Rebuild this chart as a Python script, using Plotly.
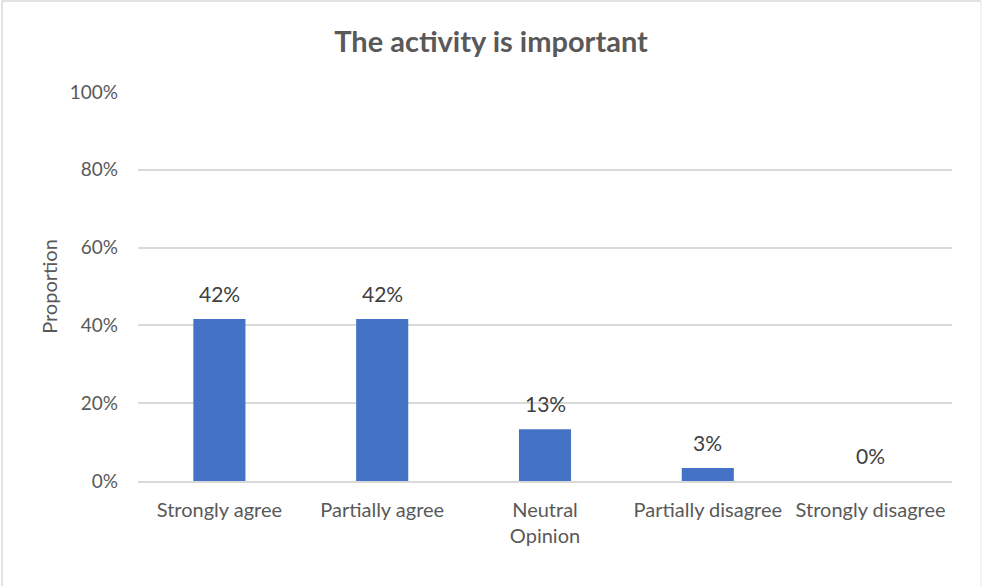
import plotly.graph_objects as go

categories = ["Strongly agree", "Partially agree", "Neutral<br>Opinion", "Partially disagree", "Strongly disagree"]
values = [0.4167, 0.4167, 0.1333, 0.0333, 0.0]
labels = ["42%", "42%", "13%", "3%", "0%"]
y_ticks = [0, 0.2, 0.4, 0.6, 0.8, 1.0]
y_tick_text = ["0%", "20%", "40%", "60%", "80%", "100%"]

FONT = "Lato, Carlito, Calibri, sans-serif"
GRAY = "#595959"

W, H = 982, 586
L, R, T, B = 138, 30, 92, 105
PW, PH = W - L - R, H - T - B

fig = go.Figure()
fig.add_trace(go.Bar(
    x=categories, y=values,
    marker=dict(color="#4472C4", line=dict(width=0)),
    width=0.32,
    hoverinfo="skip",
))

for c, v, t in zip(categories, values, labels):
    fig.add_annotation(x=c, y=v, xref="x", yref="y", text=t, showarrow=False,
                       yanchor="bottom", yshift=11,
                       font=dict(family=FONT, size=21, color="#404040"))

fig.update_layout(
    width=W, height=H,
    margin=dict(l=L, r=R, t=T, b=B),
    paper_bgcolor="white", plot_bgcolor="white",
    showlegend=False,
    title=dict(text="<b>The activity is important</b>", x=0.5, xanchor="center",
               y=1 - 42 / H, yanchor="middle",
               font=dict(family=FONT, size=29, color=GRAY)),
    font=dict(family=FONT, size=19, color=GRAY),
    xaxis=dict(showline=True, linecolor="#d9d9d9", linewidth=1.5, ticks="",
               tickfont=dict(family=FONT, size=20, color=GRAY),
               ticklabelstandoff=10, fixedrange=True),
    yaxis=dict(range=[0, 1.0], tickvals=y_ticks, ticktext=y_tick_text,
               showgrid=True, gridcolor="#d9d9d9", gridwidth=1.5,
               zeroline=False, ticks="", ticklabelstandoff=19,
               tickfont=dict(family=FONT, size=19, color=GRAY),
               title=dict(text="Proportion", standoff=6,
                          font=dict(family=FONT, size=20, color=GRAY)),
               fixedrange=True),
    shapes=[
        dict(type="line", xref="paper", yref="paper", x0=(2 - L) / PW, x1=(2 - L) / PW,
             y0=-(B + 5) / PH, y1=1 + (T - 1) / PH, line=dict(color="#d9d9d9", width=1.5)),
        dict(type="line", xref="paper", yref="paper", x0=(2 - L) / PW, x1=(981 - L) / PW,
             y0=1 + (T - 1) / PH, y1=1 + (T - 1) / PH, line=dict(color="#d9d9d9", width=1.5)),
        dict(type="line", xref="paper", yref="paper", x0=(981 - L) / PW, x1=(981 - L) / PW,
             y0=-(B + 5) / PH, y1=1 + (T - 1) / PH, line=dict(color="#e6e6e6", width=1)),
    ],
)

fig.write_html("out.html", config={"displayModeBar": False},
               post_script="document.body.style.margin='0';")
